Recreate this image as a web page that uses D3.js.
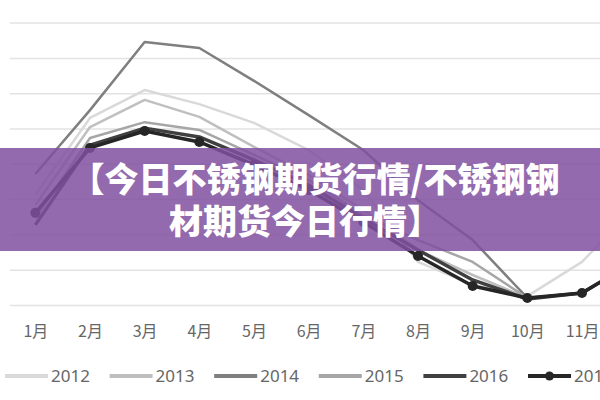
<!DOCTYPE html>
<html>
<head>
<meta charset="utf-8">
<script src="https://cdn.jsdelivr.net/npm/d3@7"></script>
<style>
  html, body { margin: 0; padding: 0; background: #fff; }
  svg { display: block; }
</style>
</head>
<body>
<svg id="chart" width="600" height="400"></svg>
<script>
// Categories and series
const months = ["1月", "2月", "3月", "4月", "5月", "6月", "7月", "8月", "9月", "10月", "11月", "12月"];
const years = ["2012", "2013", "2014", "2015", "2016", "2017"];

const v2012 = [3.12, 5.30, 6.09, 5.69, 5.16, 4.39, 3.26, 1.22, 0.57, 0.25, 1.22, 2.83];
const v2013 = [2.83, 5.04, 5.81, 5.33, 4.48, 3.68, 2.69, 1.56, 0.85, 0.20, 0.34, 1.27];
const v2014 = [3.71, 5.52, 7.45, 7.28, 6.35, 5.38, 4.39, 2.97, 1.84, 0.20, 0.34, 1.27];
const v2015 = [2.46, 4.73, 5.18, 4.96, 4.25, 3.54, 2.55, 1.84, 1.22, 0.20, 0.34, 1.27];
const v2016 = [2.27, 4.53, 5.01, 4.76, 4.11, 3.40, 2.46, 1.56, 0.71, 0.17, 0.34, 1.27];
const v2017 = [2.61, 4.45, 4.93, 4.62, 3.97, 3.26, 2.35, 1.39, 0.54, 0.20, 0.34, 1.27];

const seriesValues = [v2012, v2013, v2014, v2015, v2016, v2017];
const yTicks = [0, 1, 2, 3, 4, 5, 6, 7, 8];

const bannerLines = ["【今日不锈钢期货行情/不锈钢钢", "材期货今日行情】"];

// Styles per series
const STYLE = {
  colors: ["#d9d9d9", "#bfbfbf", "#7f7f7f", "#a6a6a6", "#404040", "#262626"],
  widths: [2.5, 2.5, 2.5, 2.5, 3.5, 3.5],
  markers: [false, false, false, false, false, true],
};

const svg = d3.select("#chart");

// Scales (the plot is wider than the window, the right edge is cropped)
const x = d3.scalePoint().domain(months).range([8, 664]).padding(0.5);
const y = d3.scaleLinear().domain([0, 8]).range([305, 22.6]);

// Gridlines
svg.append("g")
  .attr("transform", "translate(10,0)")
  .call(d3.axisLeft(y).tickValues(yTicks).tickSize(-700).tickFormat(""))
  .call((g) => g.select(".domain").remove())
  .call((g) => g.selectAll(".tick line").attr("stroke", "#e3e3e3").attr("stroke-width", 1.5));

// Month labels
svg.append("g")
  .attr("transform", "translate(0,305)")
  .call(d3.axisBottom(x).tickSize(0).tickPadding(21))
  .call((g) => g.select(".domain").remove())
  .call((g) =>
    g.selectAll("text")
      .attr("fill", "#666")
      .style("font-family", "'Noto Sans CJK SC', 'Noto Sans', sans-serif")
      .style("font-size", "16px")
  );

// Lines
const line = d3
  .line()
  .x((d, i) => x(months[i]))
  .y((d) => y(d));

seriesValues.forEach((vals, s) => {
  svg.append("path")
    .datum(vals)
    .attr("d", line)
    .attr("fill", "none")
    .attr("stroke", STYLE.colors[s])
    .attr("stroke-width", STYLE.widths[s])
    .attr("stroke-linejoin", "round");

  if (STYLE.markers[s]) {
    svg.append("g")
      .selectAll("circle")
      .data(vals)
      .join("circle")
      .attr("cx", (d, i) => x(months[i]))
      .attr("cy", (d) => y(d))
      .attr("r", 5)
      .attr("fill", STYLE.colors[s]);
  }
});

// Legend
const legend = svg.append("g").attr("transform", "translate(5,376)");
years.forEach((yr, s) => {
  const g = legend.append("g").attr("transform", `translate(${s * 104.6},0)`);
  g.append("line")
    .attr("x1", 0).attr("x2", 43)
    .attr("stroke", STYLE.colors[s])
    .attr("stroke-width", 4);
  if (STYLE.markers[s]) {
    g.append("circle").attr("cx", 21.5).attr("r", 4.5).attr("fill", STYLE.colors[s]);
  }
  g.append("text")
    .attr("x", 46)
    .attr("dy", "0.36em")
    .attr("fill", "#666")
    .style("font-family", "'Noto Sans', sans-serif")
    .style("font-size", "17px")
    .text(yr);
});

// Purple title banner over the chart
svg.append("rect")
  .attr("x", 0).attr("y", 148)
  .attr("width", 600).attr("height", 103)
  .attr("fill", "rgb(128,80,160)")
  .attr("fill-opacity", 0.85);

svg.append("g")
  .selectAll("text")
  .data(bannerLines)
  .join("text")
  .attr("x", (d, i) => (i === 0 ? 315 : 305))
  .attr("y", (d, i) => 180 + i * 42)
  .attr("dy", "0.36em")
  .attr("text-anchor", "middle")
  .attr("fill", "#fff")
  .style("font-family", "'Noto Sans CJK SC', sans-serif")
  .style("font-weight", "900")
  .style("font-size", "34px")
  .text((d) => d);
</script>
</body>
</html>
